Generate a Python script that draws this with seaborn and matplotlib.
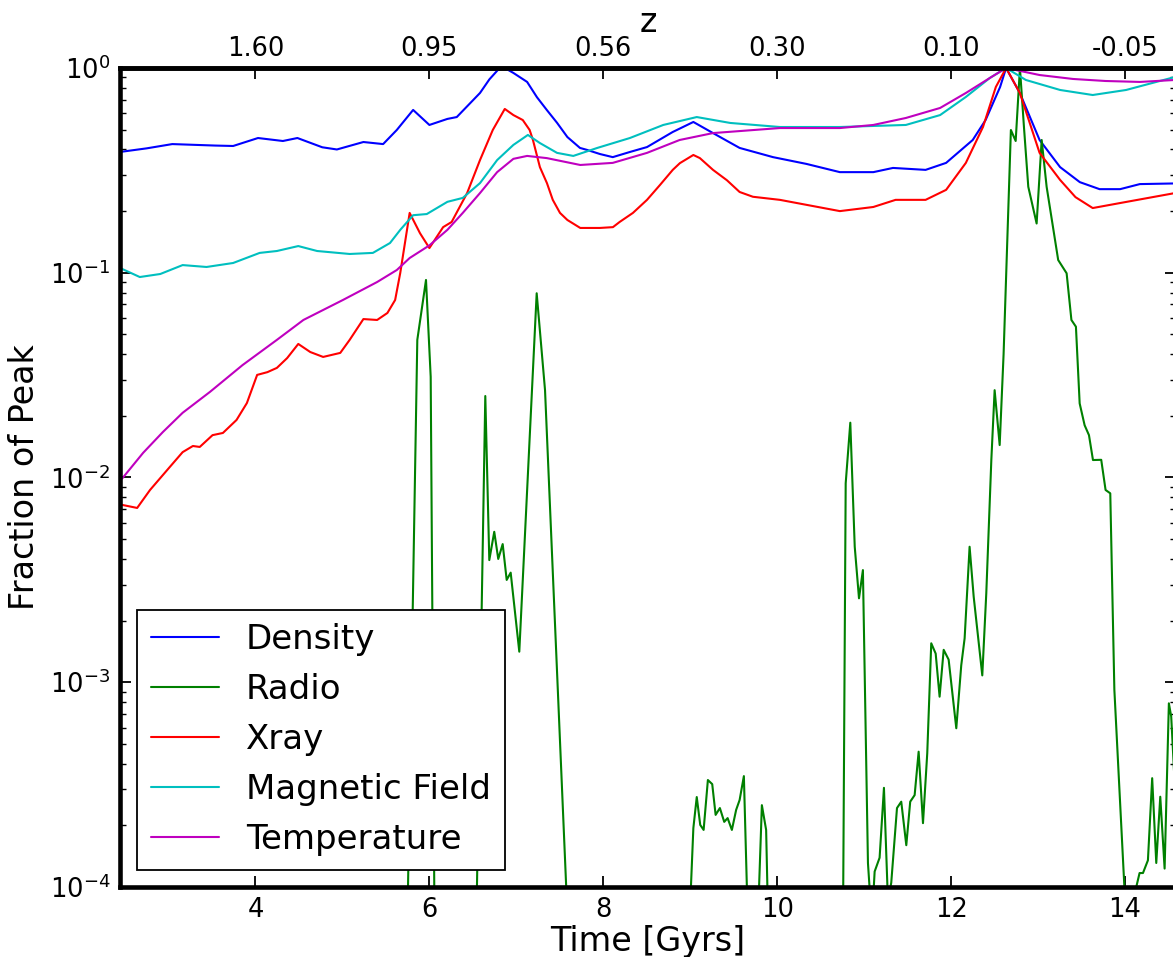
import matplotlib
matplotlib.use("Agg")
import matplotlib.pyplot as plt
import numpy as np
import pandas as pd
import seaborn as sns
from matplotlib.ticker import LogLocator, NullFormatter, FixedLocator

# ---- Series (time in Gyr, value as fraction of each quantity's peak) ----
t_density = [2.442, 2.747, 3.043, 3.536, 3.743, 4.029, 4.315, 4.482, 4.768, 4.936,
             5.241, 5.468, 5.625, 5.813, 6.000, 6.207, 6.315, 6.582, 6.690, 6.808,
             6.867, 6.966, 7.124, 7.237, 7.350, 7.468, 7.587, 7.732, 7.814, 7.962,
             8.109, 8.307, 8.503, 8.799, 9.036,
             9.262, 9.568, 9.952, 10.337, 10.721, 11.106, 11.332, 11.707, 11.943, 12.249,
             12.397, 12.564, 12.633, 12.791, 13.018, 13.254, 13.481, 13.708, 13.944, 14.171,
             14.575]
density = [0.389, 0.405, 0.425, 0.418, 0.416, 0.455, 0.440, 0.455, 0.410, 0.400,
           0.435, 0.425, 0.498, 0.624, 0.527, 0.564, 0.576, 0.755, 0.880, 1.0,
           1.0, 0.946, 0.855, 0.720, 0.624, 0.540, 0.460, 0.407, 0.398, 0.380,
           0.367, 0.389, 0.411, 0.487, 0.545,
           0.481, 0.407, 0.367, 0.340, 0.310, 0.310, 0.325, 0.318, 0.344, 0.445,
           0.557, 0.808, 1.0, 0.755, 0.445, 0.328, 0.277, 0.256, 0.256, 0.271,
           0.273]

t_radio = [2.442, 5.714, 5.861, 5.961, 6.015, 6.089, 6.493, 6.643, 6.689, 6.746,
           6.792, 6.843, 6.889, 6.935, 7.034, 7.234, 7.330, 7.482, 7.626, 8.908,
           8.957, 9.036, 9.075, 9.115, 9.154, 9.203, 9.253, 9.292, 9.341, 9.391,
           9.430, 9.479, 9.528, 9.568, 9.617, 9.696, 9.735, 9.824, 9.873, 9.923,
           10.731, 10.788, 10.841, 10.892, 10.941, 10.986, 11.044, 11.073, 11.102, 11.121,
           11.178, 11.228, 11.274, 11.312, 11.378, 11.427, 11.485, 11.530, 11.581, 11.627,
           11.677, 11.726, 11.772, 11.823, 11.868, 11.915, 11.972, 12.060, 12.117, 12.156,
           12.213, 12.260, 12.359, 12.405, 12.463, 12.501, 12.559, 12.604, 12.688, 12.743,
           12.792, 12.838, 12.888, 12.984, 13.042, 13.099, 13.232, 13.329, 13.384, 13.436,
           13.479, 13.536, 13.586, 13.632, 13.727, 13.777, 13.831, 13.878, 13.996, 14.053,
           14.130, 14.168, 14.207, 14.264, 14.313, 14.360, 14.406, 14.456, 14.505, 14.532,
           14.575]
radio = [1e-6, 1e-5, 0.047, 0.0922, 0.031, 1e-6, 4.5e-6, 0.025, 0.00395, 0.00543,
         0.0040, 0.00473, 0.00316, 0.00343, 0.00141, 0.0794, 0.0267, 0.000819, 3e-5, 1e-6,
         3e-5, 1.94e-4, 2.75e-4, 2.01e-4, 1.90e-4, 3.33e-4, 3.18e-4, 2.25e-4, 2.43e-4, 2.08e-4,
         2.17e-4, 1.90e-4, 2.38e-4, 2.66e-4, 3.48e-4, 2e-5, 2e-5, 2.51e-4, 1.9e-4, 2e-5,
         1e-6, 0.00937, 0.01852, 0.00459, 0.00257, 0.00353, 1.31e-4, 8.5e-5, 8.5e-5, 1.19e-4,
         1.39e-4, 3.05e-4, 8.5e-5, 1.05e-4, 2.43e-4, 2.61e-4, 1.60e-4, 2.61e-4, 2.81e-4, 4.58e-4,
         2.05e-4, 4.50e-4, 1.55e-3, 1.38e-3, 8.5e-4, 1.44e-3, 1.29e-3, 5.96e-4, 1.21e-3, 1.64e-3,
         4.59e-3, 2.62e-3, 1.08e-3, 2.72e-3, 0.01217, 0.0267, 0.0144, 0.040, 0.498, 0.440,
         1.0, 0.517, 0.263, 0.174, 0.445, 0.263, 0.1154, 0.0994, 0.0588, 0.0545,
         0.0230, 0.0180, 0.0161, 0.01217, 0.0122, 0.00869, 0.00837, 9.2e-4, 9.5e-5, 9e-5,
         1.0e-4, 1.17e-4, 1.17e-4, 1.35e-4, 3.40e-4, 1.31e-4, 2.76e-4, 1.23e-4, 7.89e-4, 6.79e-4,
         3e-4]

t_xray = [2.442, 2.472, 2.639, 2.787, 3.014, 3.162, 3.280, 3.359, 3.506, 3.625,
          3.782, 3.901, 4.019, 4.137, 4.246, 4.364, 4.492, 4.630, 4.778, 4.975,
          5.083, 5.241, 5.399, 5.517, 5.606, 5.665, 5.773, 5.892, 6.000, 6.158,
          6.256, 6.434, 6.582, 6.729, 6.867, 6.966, 7.074, 7.153, 7.191, 7.271,
          7.352, 7.419, 7.502, 7.587, 7.735, 7.812, 7.961, 8.111, 8.188, 8.341,
          8.503, 8.651, 8.799, 8.881, 9.036, 9.111, 9.262, 9.422, 9.568, 9.721,
          10.031, 10.721, 11.106, 11.362, 11.707, 11.943, 12.170, 12.367, 12.515, 12.633,
          12.791, 13.018, 13.254, 13.431, 13.629, 13.944, 14.575]
xray = [0.0074, 0.00734, 0.0071, 0.00869, 0.01125, 0.0133, 0.01425, 0.0141, 0.0161, 0.0165,
        0.0191, 0.0231, 0.0317, 0.0327, 0.0343, 0.0383, 0.0449, 0.0410, 0.0388, 0.0406,
        0.0470, 0.0594, 0.0588, 0.0636, 0.0736, 0.0998, 0.196, 0.156, 0.132, 0.167,
        0.177, 0.245, 0.355, 0.498, 0.631, 0.589, 0.557, 0.498, 0.445, 0.328,
        0.274, 0.227, 0.196, 0.181, 0.1655, 0.1655, 0.1655, 0.167, 0.177, 0.196,
        0.227, 0.268, 0.318, 0.343, 0.376, 0.363, 0.318, 0.283, 0.248, 0.235,
        0.227, 0.200, 0.2095, 0.227, 0.227, 0.254, 0.344, 0.515, 0.808, 1.0,
        0.755, 0.385, 0.284, 0.234, 0.207, 0.219, 0.245]

t_bfield = [2.442, 2.669, 2.905, 3.162, 3.437, 3.743, 4.048, 4.246, 4.492, 4.709,
            5.083, 5.350, 5.547, 5.665, 5.813, 5.970, 6.207, 6.384, 6.582, 6.779,
            6.966, 7.133, 7.271, 7.468, 7.655, 7.931, 8.306, 8.690, 9.075, 9.460,
            10.031, 10.721, 11.480, 11.874, 12.170, 12.446, 12.633, 12.860, 13.254, 13.629,
            14.013, 14.575]
bfield = [0.1055, 0.0953, 0.0986, 0.109, 0.1067, 0.1116, 0.125, 0.1277, 0.135, 0.1277,
          0.1235, 0.125, 0.1397, 0.162, 0.191, 0.1935, 0.222, 0.232, 0.274, 0.355,
          0.421, 0.471, 0.430, 0.385, 0.372, 0.407, 0.455, 0.527, 0.576, 0.539,
          0.515, 0.515, 0.527, 0.589, 0.722, 0.894, 1.0, 0.874, 0.781, 0.738,
          0.781, 0.904]

t_temp = [2.442, 2.472, 2.708, 2.935, 3.162, 3.477, 3.851, 4.246, 4.551, 5.005,
          5.399, 5.625, 5.773, 6.000, 6.207, 6.384, 6.582, 6.779, 6.966, 7.124,
          7.350, 7.735, 8.109, 8.503, 8.878, 9.262, 10.031, 10.721, 11.106, 11.480,
          11.874, 12.170, 12.446, 12.633, 13.018, 13.402, 13.776, 14.171, 14.575]
temp = [0.0097, 0.00995, 0.0132, 0.01668, 0.0207, 0.0262, 0.0354, 0.0470, 0.0588, 0.0736,
        0.0901, 0.1031, 0.118, 0.136, 0.162, 0.196, 0.245, 0.310, 0.360, 0.372,
        0.363, 0.336, 0.344, 0.385, 0.445, 0.481, 0.509, 0.509, 0.527, 0.570,
        0.638, 0.755, 0.894, 1.0, 0.924, 0.884, 0.864, 0.855, 0.874]

series_names = ["Density", "Radio", "Xray", "Magnetic Field", "Temperature"]
series_colors = ["#0000ff", "#008000", "#ff0000", "#00bfbf", "#bf00bf"]

# redshift labels for the top axis, placed at the matching times
z_tick_times = [4, 6, 8, 10, 12, 14]
z_labels = ["1.60", "0.95", "0.56", "0.30", "0.10", "-0.05"]
time_ticks = [4, 6, 8, 10, 12, 14]

# ---- long-form table for seaborn ----
frames = []
for name, t, v in zip(series_names,
                      [t_density, t_radio, t_xray, t_bfield, t_temp],
                      [density, radio, xray, bfield, temp]):
    frames.append(pd.DataFrame({"Time": t, "Fraction": v, "Quantity": name}))
df = pd.concat(frames, ignore_index=True)

sns.set_style("white")
plt.rcParams["font.family"] = ["DejaVu Sans"]
plt.rcParams["mathtext.fontset"] = "dejavusans"
plt.rcParams["mathtext.default"] = "regular"
for key in ["text.color", "axes.labelcolor", "xtick.color", "ytick.color",
            "axes.edgecolor"]:
    plt.rcParams[key] = "black"

fig = plt.figure(figsize=(11.73, 9.57), dpi=100)
ax = fig.add_axes([0.1023, 0.07315, 0.90026, 0.8558])

sns.lineplot(data=df, x="Time", y="Fraction", hue="Quantity",
             hue_order=series_names, palette=dict(zip(series_names, series_colors)),
             estimator=None, sort=False, linewidth=1.5, ax=ax)

ax.set_yscale("log")
ax.set_ylim(1e-4, 1.0)
ax.set_xlim(2.4416, 14.587)

ax.yaxis.set_major_locator(LogLocator(base=10, numticks=10))
ax.yaxis.set_minor_locator(LogLocator(base=10, subs=np.arange(2, 10), numticks=50))
ax.yaxis.set_minor_formatter(NullFormatter())
ax.xaxis.set_major_locator(FixedLocator(time_ticks))

for s in ax.spines.values():
    s.set_linewidth(3.3)
    s.set_color("black")

ax.tick_params(which="major", direction="in", length=8, width=1.3,
               labelsize=18.5, pad=7, top=False, right=True, bottom=True, left=True,
               colors="black")
ax.tick_params(which="minor", direction="in", length=4, width=1.0,
               top=False, right=True, left=True, bottom=False)

ax.set_xlabel("Time [Gyrs]", fontsize=24, labelpad=2)
ax.set_ylabel("Fraction of Peak", fontsize=24, labelpad=6)

top = ax.secondary_xaxis("top")
top.set_xticks(z_tick_times, labels=z_labels)
top.tick_params(direction="in", length=8, width=1.3, labelsize=18.5, pad=4,
                colors="black")
top.spines["top"].set_linewidth(3.3)
top.set_xlabel("z", fontsize=24, labelpad=3)

handles, labels = ax.get_legend_handles_labels()
leg = ax.legend(handles, labels, loc="lower left", fontsize=24.5, frameon=True,
                fancybox=False, framealpha=1.0, edgecolor="black",
                borderaxespad=0.5, handlelength=2.0)
leg.get_frame().set_linewidth(1.3)
for line in leg.get_lines():
    line.set_linewidth(1.5)

fig.savefig("out.png", dpi=100)
